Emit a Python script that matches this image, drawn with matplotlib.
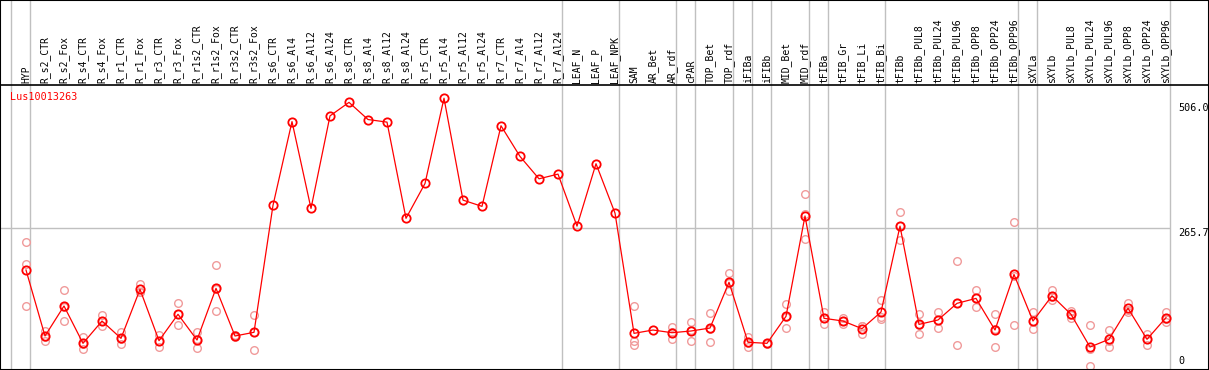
import matplotlib
matplotlib.use('Agg')
import matplotlib.pyplot as plt

gene = 'Lus10013263'

samples = ['HYP', 'R_s2_CTR', 'R_s2_Fox', 'R_s4_CTR', 'R_s4_Fox', 'R_r1_CTR', 'R_r1_Fox',
           'R_r3_CTR', 'R_r3_Fox', 'R_r1s2_CTR', 'R_r1s2_Fox', 'R_r3s2_CTR', 'R_r3s2_Fox',
           'R_s6_CTR', 'R_s6_Al4', 'R_s6_Al12', 'R_s6_Al24', 'R_s8_CTR', 'R_s8_Al4', 'R_s8_Al12',
           'R_s8_Al24', 'R_r5_CTR', 'R_r5_Al4', 'R_r5_Al12', 'R_r5_Al24', 'R_r7_CTR', 'R_r7_Al4',
           'R_r7_Al12', 'R_r7_Al24', 'LEAF_N', 'LEAF_P', 'LEAF_NPK', 'SAM', 'AR_Bet', 'AR_rdf',
           'cPAR', 'TOP_Bet', 'TOP_rdf', 'iFIBa', 'iFIBb', 'MID_Bet', 'MID_rdf', 'tFIBa',
           'tFIB_Gr', 'tFIB_Li', 'tFIB_Bi', 'tFIBb', 'tFIBb_PUL8', 'tFIBb_PUL24', 'tFIBb_PUL96',
           'tFIBb_OPP8', 'tFIBb_OPP24', 'tFIBb_OPP96', 'sXYLa', 'sXYLb', 'sXYLb_PUL8',
           'sXYLb_PUL24', 'sXYLb_PUL96', 'sXYLb_OPP8', 'sXYLb_OPP24', 'sXYLb_OPP96']

# mean expression per sample
means = [184.6, 57.7, 115.4, 43.6, 86.5, 53.2, 147.4, 48.7, 99.4, 50.0, 149.4, 57.7, 64.8,
         309, 470, 303, 481, 507, 474, 469, 284, 351, 515, 319, 307, 462, 403, 360, 369,
         269, 389, 294,
         62.8, 69.2, 64.0, 67.3, 73.0, 161, 45.6, 43.6, 95.5, 288.5, 91.7, 86.5, 71.8, 103.8,
         269, 80, 88.5, 120.5, 130, 69.2, 176, 86.5, 135, 99.4, 36.5, 51.3, 111, 51.3, 93]

# replicate values per sample
reps = [[238, 196, 115], [68, 49, 56], [146, 87, 114], [56, 32, 43], [98, 76, 86],
        [66, 42, 52], [157, 143, 142], [60, 37, 49], [121, 78, 100], [65, 34, 51],
        [194, 106, 148], [55, 60, 58], [98, 31, 66],
        [], [], [], [], [], [], [], [], [], [], [], [], [], [], [], [], [], [], [],
        [115, 49, 40], [], [75, 51, 66], [84, 49, 69], [101, 46, 72], [178, 145, 160],
        [56, 37, 44], [42, 45], [119, 73, 95], [330, 244, 292], [103, 80, 92], [93, 80, 87],
        [77, 61, 77], [127, 90, 94], [296, 242, 269], [100, 61, 79], [103, 74, 89],
        [201, 40, 121], [146, 113, 131], [100, 37, 71], [277, 78, 173], [103, 71, 86],
        [146, 126, 133], [106, 93, 99], [78, 0, 32], [69, 37, 48], [122, 103, 108],
        [62, 40, 52], [104, 85, 90]]

# last sample index of each tissue group
group_ends = [-1, 0, 28, 31, 34, 35, 37, 38, 39, 41, 42, 45, 52, 53, 60]

axis_labels = ['506.0', '265.7', '0']
axis_values = [506.0, 265.7, 0]

W, H = 1209, 370
fig = plt.figure(figsize=(W / 100, H / 100), dpi=100)
ax = fig.add_axes([0, 0, 1, 1])
ax.set_xlim(-26 / 19, (W - 26) / 19)
ax.set_ylim(-4 / 0.52, 366 / 0.52)
ax.set_xticks([])
ax.set_yticks([])
for s in ax.spines.values():
    s.set_color('black')
    s.set_linewidth(1.5)

mono = 'DejaVu Sans Mono'
grey = '#c0c0c0'

# group separators
for g in group_ends:
    ax.axvline(g + 0.2, color=grey, lw=1.0, zorder=1)

ax.hlines(265.7, -2, group_ends[-1] + 0.2, color=grey, lw=1.0, zorder=1)

# header / plot separator
head_y = 1 - 85 / H
ax.plot([0, 1], [head_y, head_y], color='black', lw=1.2, transform=ax.transAxes, zorder=3)

for i, name in enumerate(samples):
    ax.text(i, 1 - 83 / H, name, rotation=90, ha='center', va='bottom', fontsize=7,
            family=mono, transform=ax.get_xaxis_transform())

# replicates
for i, r in enumerate(reps):
    ax.plot([i] * len(r), r, 'o', ms=5.5, mfc='none', mec='#f09a9a', mew=1.0, zorder=2)

# means
x = list(range(len(means)))
ax.plot(x, means, '-', color='red', lw=0.9, zorder=4)
ax.plot(x, means, 'o', ms=6, mfc='none', mec='red', mew=1.3, zorder=5)

ax.text(10 / W, 1 - 97 / H, gene, color='red', fontsize=7.3, family=mono,
        va='center', ha='left', transform=ax.transAxes)

for lab, v in zip(axis_labels, axis_values):
    ax.text(1178 / W, v, lab, fontsize=7.3, family=mono, ha='left',
            va='bottom' if v == 0 else 'top', transform=ax.get_yaxis_transform())

fig.savefig('out.png', dpi=100)
